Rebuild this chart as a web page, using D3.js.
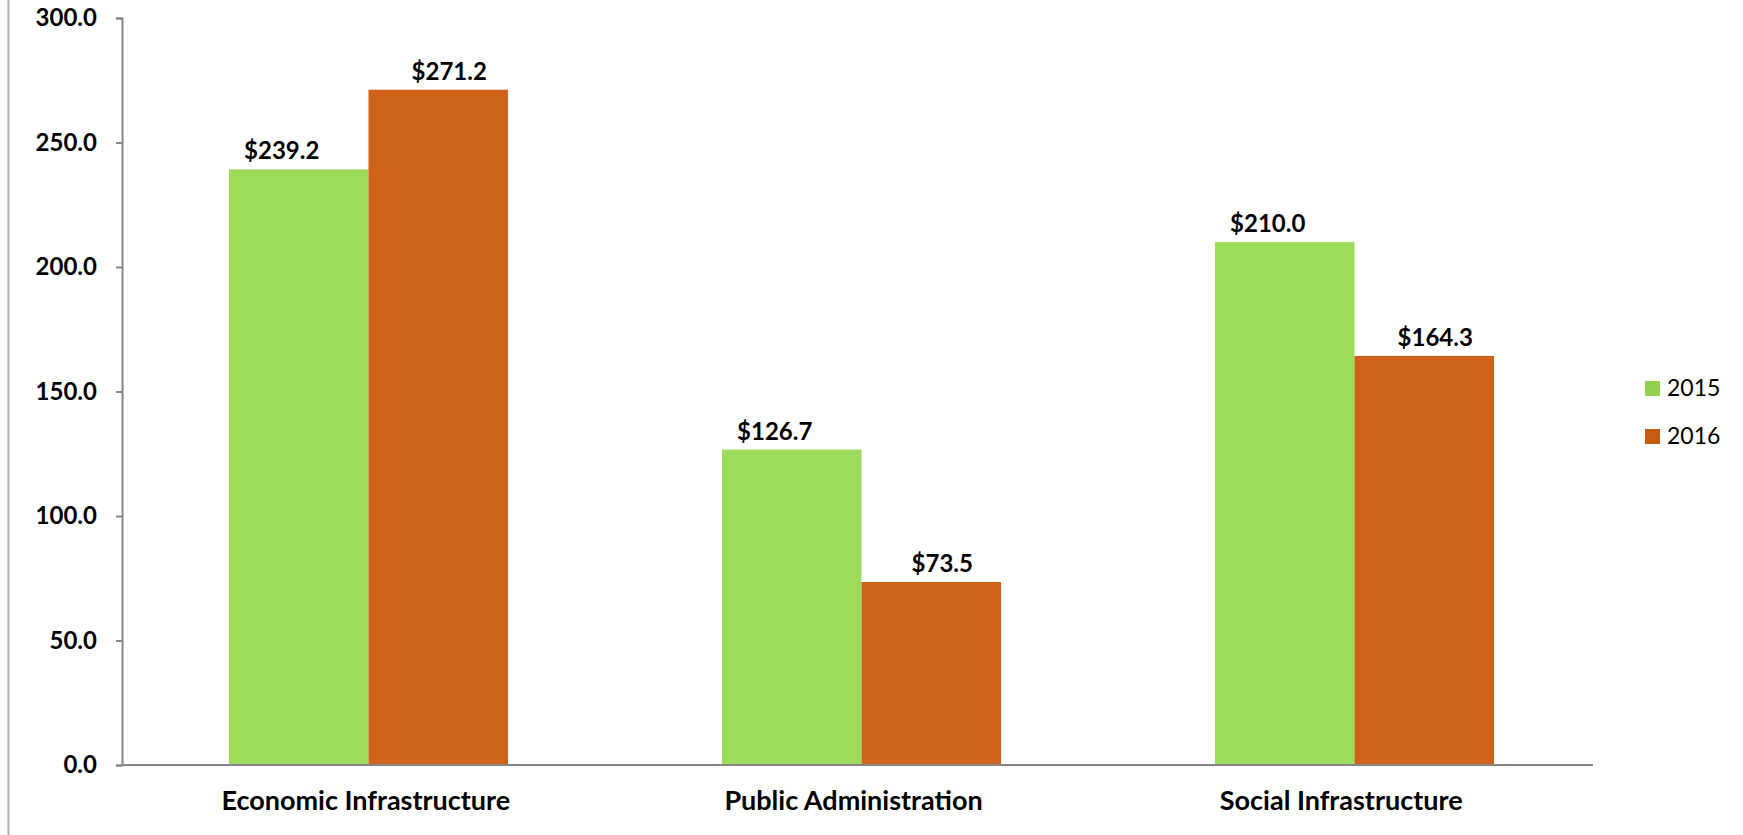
<!DOCTYPE html>
<html>
<head>
<meta charset="utf-8">
<script src="https://cdn.jsdelivr.net/npm/d3@7"></script>
<style>
  body { margin: 0; background: #fff; }
  svg text { font-family: Lato, "Open Sans", sans-serif; fill: #000; }
  .axis path, .axis line { stroke: #868686; stroke-width: 2; }
  .axis text { font-weight: bold; font-size: 24px; }
</style>
</head>
<body>
<div id="chart"></div>
<script>
// categories and series
var categories = ["Economic Infrastructure", "Public Administration", "Social Infrastructure"];
var years = ["2015", "2016"];
var values2015 = [239.2, 126.7, 210.0];
var values2016 = [271.2, 73.5, 164.3];
var yTicks = [0, 50, 100, 150, 200, 250, 300];

var colors = ["#9DDC5B", "#D0631C"];
var legendColors = ["#92D050", "#C55A11"];

var svg = d3.select("#chart").append("svg")
    .attr("width", 1743)
    .attr("height", 835);

// outer frame line on the left
svg.append("line")
    .attr("x1", 8.5).attr("x2", 8.5)
    .attr("y1", 0).attr("y2", 835)
    .attr("stroke", "#b0b0b0").attr("stroke-width", 2);

var margin = {top: 18, left: 122, right: 150, bottom: 70};
var width = 1593 - margin.left,
    height = 765 - margin.top;

var g = svg.append("g").attr("transform", "translate(" + margin.left + "," + margin.top + ")");

// bars sit a touch right of the axis span, labels a touch left, like the original
var x0 = d3.scaleBand().domain(categories).range([0, width + 8]).paddingInner(0.434).paddingOuter(0.217);
var xLab = d3.scaleBand().domain(categories).range([0, width - 8]);
var x1 = d3.scaleBand().domain(years).range([0, x0.bandwidth()]);
var y = d3.scaleLinear().domain([0, 300]).range([height, 0]);

var rows = categories.map(function (c, i) {
    return {cat: c, vals: [values2015[i], values2016[i]]};
});

// bars
var groups = g.selectAll(".grp").data(rows).enter().append("g")
    .attr("class", "grp")
    .attr("transform", function (d) { return "translate(" + x0(d.cat) + ",0)"; });

groups.selectAll("rect").data(function (d) { return d.vals; }).enter().append("rect")
    .attr("x", function (d, i) { return x1(years[i]); })
    .attr("y", function (d) { return y(d); })
    .attr("width", x1.bandwidth())
    .attr("height", function (d) { return height - y(d); })
    .attr("fill", function (d, i) { return colors[i]; });

// value labels (Excel puts them a little off-centre)
var labelShift = [-17, 11];
groups.selectAll(".val").data(function (d) { return d.vals; }).enter().append("text")
    .attr("class", "val")
    .attr("x", function (d, i) { return x1(years[i]) + x1.bandwidth() / 2 + labelShift[i]; })
    .attr("y", function (d) { return y(d) - 10; })
    .attr("text-anchor", "middle")
    .style("font-weight", "bold")
    .style("font-size", "24px")
    .text(function (d) { return "$" + d.toFixed(1); });

// y axis
g.append("g")
    .attr("class", "axis axis--y")
    .call(d3.axisLeft(y).tickValues(yTicks).tickSize(6).tickSizeOuter(6).tickPadding(19)
        .tickFormat(function (d) { return d.toFixed(1); }));

// x axis
var xa = g.append("g")
    .attr("class", "axis axis--x")
    .attr("transform", "translate(0," + height + ")")
    .call(d3.axisBottom(xLab).tickSize(0).tickPadding(0));
xa.select(".domain").remove();
xa.append("line")
    .attr("x1", 0).attr("x2", width)
    .attr("y1", 0).attr("y2", 0);
xa.selectAll("text")
    .attr("y", 45)
    .attr("dy", 0)
    .style("font-size", "27px");

// legend
var legend = svg.append("g").attr("transform", "translate(1645,381)");
years.forEach(function (yr, i) {
    legend.append("rect")
        .attr("x", 0).attr("y", i * 48)
        .attr("width", 15).attr("height", 15)
        .attr("fill", legendColors[i]);
    legend.append("text")
        .attr("x", 22).attr("y", i * 48 + 15)
        .style("font-size", "23px")
        .text(yr);
});
</script>
</body>
</html>
